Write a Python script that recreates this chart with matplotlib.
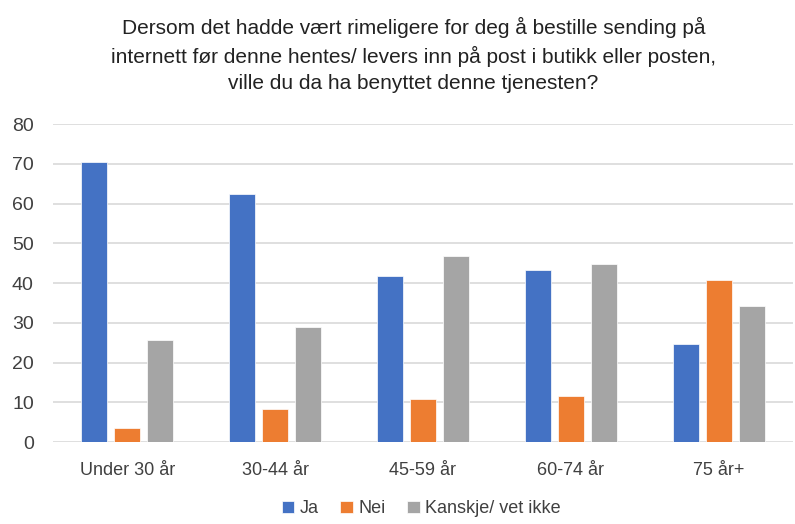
import matplotlib
matplotlib.use("Agg")
import matplotlib.pyplot as plt
import numpy as np

categories = ["Under 30 år", "30-44 år", "45-59 år", "60-74 år", "75 år+"]
ja = [70.4, 62.4, 41.8, 43.3, 24.7]
nei = [3.5, 8.3, 10.8, 11.6, 40.7]
kanskje = [25.7, 29.0, 46.9, 44.9, 34.3]
series_names = ["Ja", "Nei", "Kanskje/ vet ikke"]
title = ("Dersom det hadde vært rimeligere for deg å bestille sending på\n"
         "internett før denne hentes/ levers inn på post i butikk eller posten,\n"
         "ville du da ha benyttet denne tjenesten?")

plt.rcParams['font.family'] = ['Liberation Sans', 'DejaVu Sans']

colors = ["#4472C4", "#ED7D31", "#A5A5A5"]

fig = plt.figure(figsize=(7.95, 5.24), dpi=100)
ax = fig.add_axes([0.067, 0.156, 0.93, 0.607])

x = np.arange(len(categories))
w = 0.176
step = 0.223
for i, (vals, c, n) in enumerate(zip([ja, nei, kanskje], colors, series_names)):
    ax.bar(x + (i - 1) * step, vals, width=w, color=c, label=n, zorder=3,
           edgecolor="white", linewidth=0.5)

ax.set_ylim(0, 80)
ax.set_xlim(-0.5, len(categories) - 0.5)
ax.set_yticks(range(0, 81, 10))
ax.set_xticks(x)
ax.set_xticklabels(categories)
ax.tick_params(axis='x', length=0, labelsize=13, colors="#404040", pad=14)
ax.tick_params(axis='y', length=0, labelsize=14, colors="#404040", pad=14)
ax.grid(axis='y', color="#D9D9D9", linewidth=1.2, zorder=0)
for s in ax.spines.values():
    s.set_visible(False)

fig.text(0.52, 0.968, title, ha='center', va='top', fontsize=15,
         color="#222222", linespacing=1.48)

fig.legend(loc='lower center', bbox_to_anchor=(0.53, -0.018), ncol=3,
           frameon=False, fontsize=13, handlelength=0.7, handleheight=0.7,
           handletextpad=0.3, columnspacing=1.2, labelcolor="#404040")

fig.savefig("out.png", dpi=100)
